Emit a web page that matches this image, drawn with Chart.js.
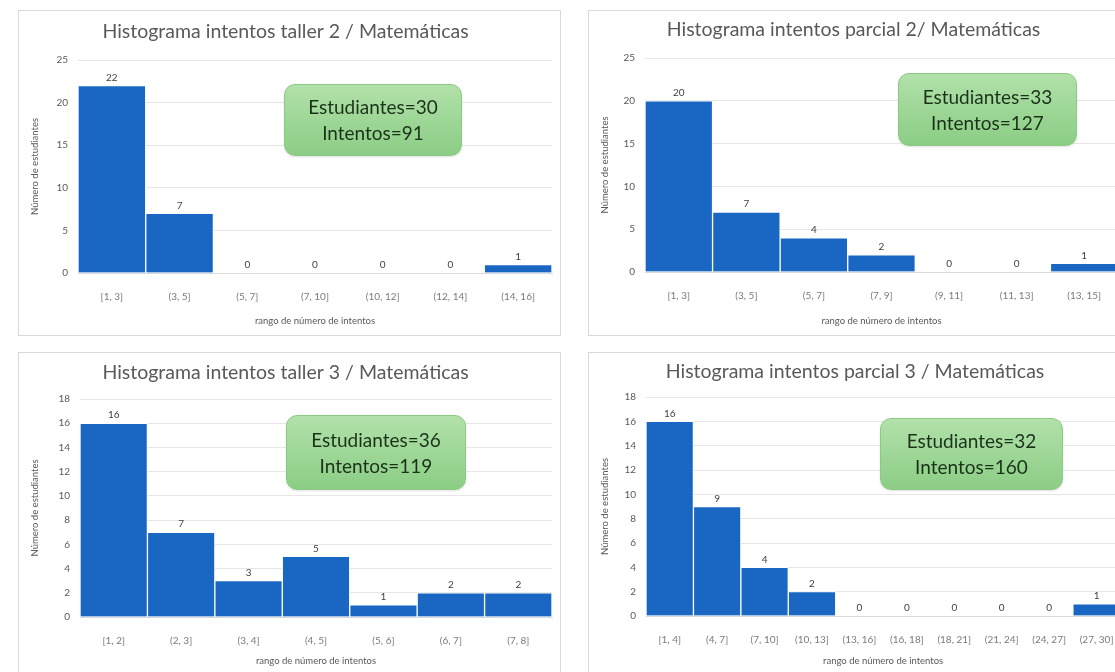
<!DOCTYPE html>
<html lang="es">
<head>
<meta charset="utf-8">
<title>Histogramas de intentos / Matemáticas</title>
<script src="https://cdn.jsdelivr.net/npm/chart.js@4/dist/chart.umd.min.js"></script>
<style>
  html, body { margin: 0; padding: 0; background: #ffffff; }
  body { width: 1115px; height: 672px; overflow: hidden; position: relative; font-family: Lato, "Open Sans", sans-serif; }
  .panel { position: absolute; box-sizing: border-box; border: 1px solid #d9d9d9; background: #ffffff; overflow: hidden; }
  .panel canvas { position: absolute; left: 0; top: 0; }
  .resumen {
    position: absolute; box-sizing: border-box;
    border: 1px solid #8cc985; border-radius: 11px;
    background: linear-gradient(180deg, #b2e1aa 0%, #9cd695 55%, #8ccd85 100%);
    color: #1a3318; font-size: 19px; line-height: 26px; text-align: center;
    display: flex; flex-direction: column; justify-content: center;
    box-shadow: 0 1px 2px rgba(0,0,0,0.12);
  }
</style>
</head>
<body>

<div class="panel" id="p1" style="left:18px; top:10px; width:543px; height:326px;"><canvas id="c1" width="541" height="324"></canvas></div>
<div class="panel" id="p2" style="left:588px; top:10px; width:545px; height:326px;"><canvas id="c2" width="543" height="324"></canvas></div>
<div class="panel" id="p3" style="left:18px; top:352px; width:543px; height:330px;"><canvas id="c3" width="541" height="328"></canvas></div>
<div class="panel" id="p4" style="left:588px; top:352px; width:545px; height:330px;"><canvas id="c4" width="543" height="328"></canvas></div>

<div class="resumen" id="r1" style="left:284px; top:84px; width:178px; height:72px;"></div>
<div class="resumen" id="r2" style="left:898px; top:73px; width:179px; height:73px;"></div>
<div class="resumen" id="r3" style="left:286px; top:415px; width:180px; height:75px;"></div>
<div class="resumen" id="r4" style="left:880px; top:418px; width:183px; height:72px;"></div>

<script>
// Taller 2
const tallerDosLabels = ['[1, 3]', '(3, 5]', '(5, 7]', '(7, 10]', '(10, 12]', '(12, 14]', '(14, 16]'];
const tallerDosValues = [22, 7, 0, 0, 0, 0, 1];
const tallerDosTitle = 'Histograma intentos taller 2 / Matemáticas';
const tallerDosResumen = ['Estudiantes=30', 'Intentos=91'];

// Parcial 2
const parcialDosLabels = ['[1, 3]', '(3, 5]', '(5, 7]', '(7, 9]', '(9, 11]', '(11, 13]', '(13, 15]'];
const parcialDosValues = [20, 7, 4, 2, 0, 0, 1];
const parcialDosTitle = 'Histograma intentos parcial 2/ Matemáticas';
const parcialDosResumen = ['Estudiantes=33', 'Intentos=127'];

// Taller 3
const tallerTresLabels = ['[1, 2]', '(2, 3]', '(3, 4]', '(4, 5]', '(5, 6]', '(6, 7]', '(7, 8]'];
const tallerTresValues = [16, 7, 3, 5, 1, 2, 2];
const tallerTresTitle = 'Histograma intentos taller 3 / Matemáticas';
const tallerTresResumen = ['Estudiantes=36', 'Intentos=119'];

// Parcial 3
const parcialTresLabels = ['[1, 4]', '(4, 7]', '(7, 10]', '(10, 13]', '(13, 16]', '(16, 18]', '(18, 21]', '(21, 24]', '(24, 27]', '(27, 30]'];
const parcialTresValues = [16, 9, 4, 2, 0, 0, 0, 0, 0, 1];
const parcialTresTitle = 'Histograma intentos parcial 3 / Matemáticas';
const parcialTresResumen = ['Estudiantes=32', 'Intentos=160'];

// Axis texts and tick ranges
const xAxisTitle = 'rango de número de intentos';
const yAxisTitle = 'Número de estudiantes';
const yRangeTop = { max: 25, step: 5 };
const yRangeBottom = { max: 18, step: 2 };

const FONT = 'Lato, "Open Sans", sans-serif';
const BAR_BLUE = '#1a67c3';

// Writes the value above every bar
const barValueLabels = {
  id: 'barValueLabels',
  afterDatasetsDraw(chart) {
    const ctx = chart.ctx;
    const meta = chart.getDatasetMeta(0);
    const data = chart.data.datasets[0].data;
    ctx.save();
    ctx.font = '10px ' + FONT;
    ctx.fillStyle = '#404040';
    ctx.textAlign = 'center';
    ctx.textBaseline = 'bottom';
    meta.data.forEach((bar, i) => {
      ctx.fillText(String(data[i]), bar.x, bar.y - 3);
    });
    ctx.restore();
  }
};

function fillResumen(id, lines) {
  const box = document.getElementById(id);
  lines.forEach(t => {
    const d = document.createElement('div');
    d.textContent = t;
    box.appendChild(d);
  });
}

// g: plot frame inside the canvas (left/right/top/bottom) and title centre
function histogram(canvasId, labels, values, title, range, g) {
  const canvas = document.getElementById(canvasId);
  const W = canvas.width, H = canvas.height;
  const titleSize = 19.5, titleLH = titleSize * 1.2;
  return new Chart(canvas, {
    type: 'bar',
    data: {
      labels: labels,
      datasets: [{
        data: values,
        backgroundColor: BAR_BLUE,
        borderColor: '#ffffff',
        borderWidth: 1,
        borderSkipped: 'start',
        categoryPercentage: 1.0,
        barPercentage: 1.0
      }]
    },
    options: {
      responsive: false,
      animation: false,
      devicePixelRatio: 1,
      layout: { padding: { left: 0, right: W - g.right, top: 0, bottom: 0 } },
      plugins: {
        legend: { display: false },
        tooltip: { enabled: false },
        title: {
          display: true,
          text: title,
          color: '#595959',
          font: { family: FONT, size: titleSize, weight: 'normal', lineHeight: 1.2 },
          padding: { top: g.titleY - titleLH / 2, bottom: g.top - g.titleY - titleLH / 2 }
        }
      },
      scales: {
        x: {
          grid: { display: false, drawTicks: false },
          border: { display: true, color: '#d9d9d9', width: 1 },
          ticks: {
            color: '#7a7a7a', font: { family: FONT, size: 10 },
            padding: g.tickPad, autoSkip: false, maxRotation: 0, minRotation: 0
          },
          title: {
            display: true, text: xAxisTitle, color: '#595959',
            font: { family: FONT, size: 9.5 },
            padding: { top: 0, bottom: g.xTitlePad }
          },
          afterFit(scale) { scale.height = H - g.bottom; }
        },
        y: {
          min: 0, max: range.max,
          grid: { color: '#e6e6e6', lineWidth: 1, drawTicks: false },
          border: { display: false },
          ticks: {
            stepSize: range.step, color: '#595959',
            font: { family: FONT, size: 10 }, padding: 10
          },
          title: {
            display: true, text: yAxisTitle, color: '#595959',
            font: { family: FONT, size: 9.5 },
            padding: { top: g.yTitlePad, bottom: 0 }
          },
          afterFit(scale) { scale.width = g.left; }
        }
      }
    },
    plugins: [barValueLabels]
  });
}

histogram('c1', tallerDosLabels, tallerDosValues, tallerDosTitle, yRangeTop,
  { left: 59, right: 533, top: 49, bottom: 262, titleY: 21, tickPad: 18, xTitlePad: 8, yTitlePad: 10 });
histogram('c2', parcialDosLabels, parcialDosValues, parcialDosTitle, yRangeTop,
  { left: 56, right: 529, top: 47, bottom: 261, titleY: 19, tickPad: 18, xTitlePad: 8, yTitlePad: 10 });
histogram('c3', tallerTresLabels, tallerTresValues, tallerTresTitle, yRangeBottom,
  { left: 61, right: 533, top: 46, bottom: 264, titleY: 20, tickPad: 18, xTitlePad: 14, yTitlePad: 10 });
histogram('c4', parcialTresLabels, parcialTresValues, parcialTresTitle, yRangeBottom,
  { left: 57, right: 532, top: 44, bottom: 263, titleY: 19, tickPad: 18, xTitlePad: 14, yTitlePad: 10 });

fillResumen('r1', tallerDosResumen);
fillResumen('r2', parcialDosResumen);
fillResumen('r3', tallerTresResumen);
fillResumen('r4', parcialTresResumen);
</script>
</body>
</html>
